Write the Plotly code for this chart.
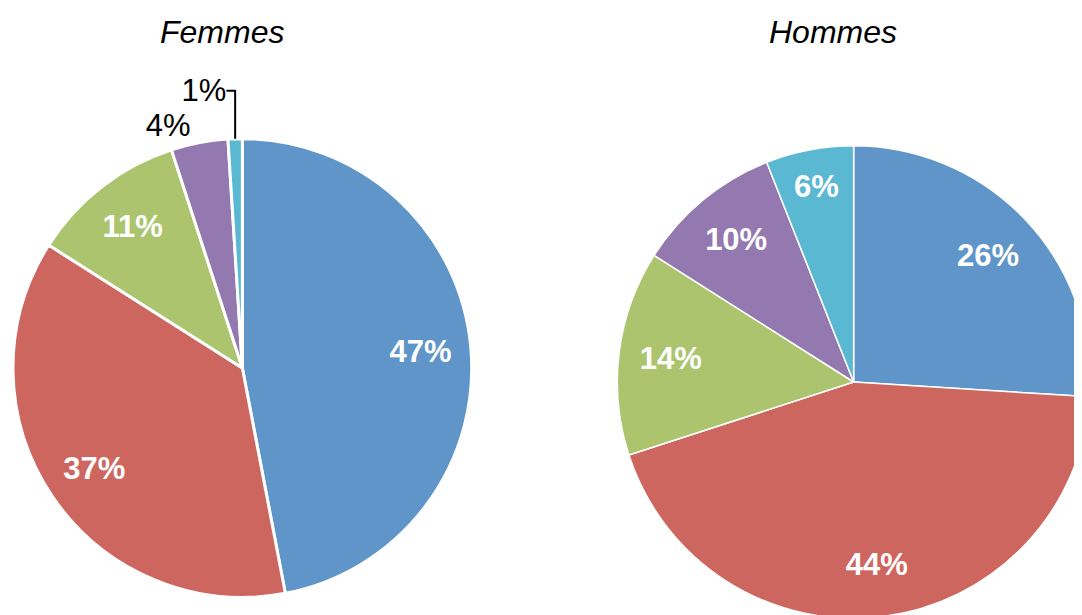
import plotly.graph_objects as go

# Data
categories = ['A', 'B', 'C', 'D', 'E']
femmes = [47, 37, 11, 4, 1]
hommes = [26, 44, 14, 10, 6]
titles = ['Femmes', 'Hommes']

colors = ['#5F95C8', '#CD665F', '#ABC46D', '#9379B0', '#5BB8D3']
W, H = 1082, 615
OFF = 8  # page body margin shifts the figure


def dom(cx, cy, r):
    # window pixel centre/radius -> paper domain
    cx, cy = cx - OFF, cy - OFF
    return dict(x=[max(0, (cx - r) / W), min(1, (cx + r) / W)],
                y=[max(0, (H - cy - r) / H), min(1, (H - cy + r) / H)])


def add_pie(values, d, border, textpos):
    # visible pie (no text), invisible donut on top carries the labels near the rim
    fig.add_trace(go.Pie(
        labels=categories, values=values, sort=False, direction='clockwise',
        rotation=0, domain=d, textinfo='none', hoverinfo='skip',
        marker=dict(colors=colors, line=dict(color='white', width=border)),
    ))
    fig.add_trace(go.Pie(
        labels=categories, values=values, sort=False, direction='clockwise',
        rotation=0, domain=d, hole=0.56, hoverinfo='skip',
        marker=dict(colors=['rgba(0,0,0,0)'] * len(values), line=dict(width=0)),
        texttemplate='%{value}%', textposition=textpos,
        insidetextfont=dict(color='white', size=31, family='Liberation Sans', weight='bold'),
        outsidetextfont=dict(color='black', size=31, family='Liberation Sans'),
        insidetextorientation='horizontal',
    ))


fig = go.Figure()
add_pie(femmes, dom(240, 368, 230), 3,
        ['inside', 'inside', 'inside', 'outside', 'outside'])
add_pie(hommes, dom(853, 382, 237), 1.5, 'inside')

for x, t in zip([220, 832], titles):
    fig.add_annotation(x=(x - OFF) / W, y=1 - (32 - OFF) / H, xref='paper', yref='paper',
                       xanchor='center', yanchor='middle',
                       text='<i>' + t + '</i>', showarrow=False,
                       font=dict(size=32, family='Liberation Sans', color='black'))

fig.update_layout(
    width=W, height=H, margin=dict(l=0, r=0, t=0, b=0),
    showlegend=False, paper_bgcolor='white', plot_bgcolor='white',
    uniformtext=dict(minsize=20, mode='show'),
)

fig.write_html('out.html')
